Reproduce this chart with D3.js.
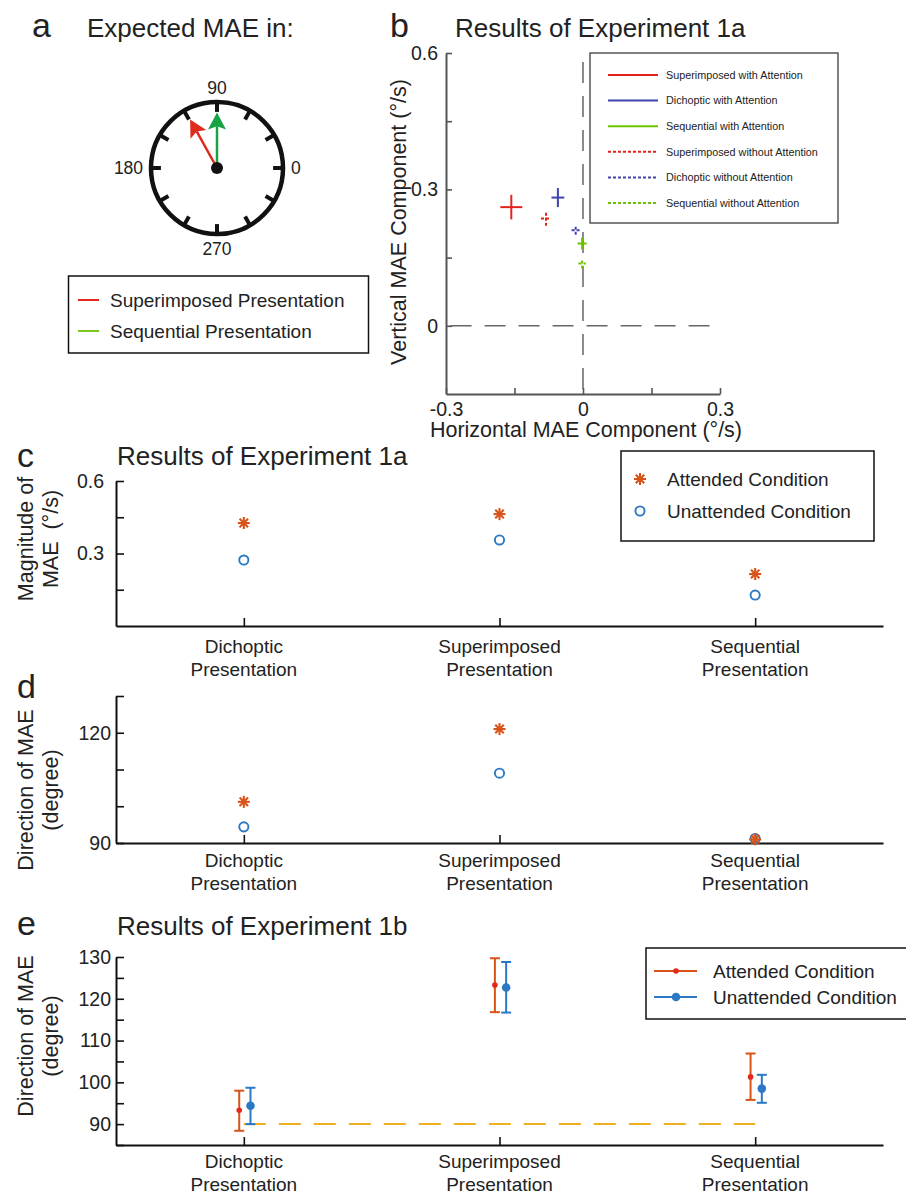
<!DOCTYPE html>
<html>
<head>
<meta charset="utf-8">
<script src="https://cdn.jsdelivr.net/npm/d3@7"></script>
<style>
  body { margin: 0; background: #fff; }
  text { font-family: "Liberation Sans", Arial, sans-serif; fill: #222; }
</style>
</head>
<body>
<div id="figure"></div>
<script>
// ---- data ----
// panel a: expected MAE directions (deg)
var clockLabels = [0, 90, 180, 270];
var expectedNames = ["Superimposed Presentation", "Sequential Presentation"];
var expectedAngles = [119, 90];

// panel b: horizontal / vertical MAE components with error extents
var compNames = ["Superimposed with Attention", "Dichoptic with Attention", "Sequential with Attention",
                 "Superimposed without Attention", "Dichoptic without Attention", "Sequential without Attention"];
var compX = [-0.157, -0.055, -0.002, -0.081, -0.016, -0.002];
var compY = [0.261, 0.282, 0.181, 0.236, 0.210, 0.137];
var compXErr = [0.024, 0.014, 0.010, 0.011, 0.009, 0.008];
var compYErr = [0.027, 0.021, 0.013, 0.016, 0.010, 0.011];
var bXTicks = [-0.3, -0.15, 0, 0.15, 0.3];
var bYTicks = [0, 0.15, 0.3, 0.45, 0.6];

// panels c-e: presentation conditions
var categories = ["Dichoptic", "Superimposed", "Sequential"];
var conditionNames = ["Attended Condition", "Unattended Condition"];

// c: magnitude of MAE (deg/s)
var magAttended = [0.426, 0.463, 0.215];
var magUnattended = [0.273, 0.356, 0.128];
var cYTicks = [0.15, 0.3, 0.45, 0.6];

// d: direction of MAE, experiment 1a (deg)
var dirAttended = [101.2, 121.0, 91.0];
var dirUnattended = [94.4, 109.0, 91.2];
var dYTicks = [90, 100, 110, 120, 130];

// e: direction of MAE, experiment 1b (deg) with error bars
var eAttended = [93.3, 123.3, 101.3];
var eAttendedLo = [88.4, 116.8, 95.8];
var eAttendedHi = [98.0, 129.7, 106.9];
var eUnattended = [94.4, 122.7, 98.5];
var eUnattendedLo = [90.0, 116.7, 95.1];
var eUnattendedHi = [98.7, 128.8, 101.8];
var eBaseline = 90;
var eYTicks = [85, 90, 95, 100, 105, 110, 115, 120, 125, 130];

// ---- setup ----
var svgWidth = 906, svgHeight = 1197;
var svg = d3.select("#figure").append("svg")
  .attr("width", svgWidth)
  .attr("height", svgHeight);

var red = "#e4221c", blue = "#4044ae", green = "#6cc400";
var attColor = "#d95319", attDot = "#e2291c", unColor = "#2b78c5";

function addText(x, y, str, size, anchor) {
  return svg.append("text")
    .attr("x", x).attr("y", y)
    .attr("text-anchor", anchor || "start")
    .style("font-size", size + "px")
    .text(str);
}

function styleAxis(g, color, size) {
  g.attr("font-family", null).attr("font-size", null);
  g.select(".domain").attr("stroke", color).attr("stroke-width", 2);
  g.selectAll(".tick line").attr("stroke", color).attr("stroke-width", 1.6);
  g.selectAll(".tick text").style("font-size", size + "px");
}

function star(g, x, y, r, color) {
  var s = g.append("g").attr("transform", "translate(" + x + "," + y + ")")
    .attr("stroke", color).attr("stroke-width", 2.1);
  [0, 45, 90, 135].forEach(function(a) {
    var t = a * Math.PI / 180;
    s.append("line")
      .attr("x1", -r * Math.cos(t)).attr("y1", -r * Math.sin(t))
      .attr("x2", r * Math.cos(t)).attr("y2", r * Math.sin(t));
  });
}

// two-line y label, first baseline at x, second one line to the right
function rotatedLabel(x, y, lines, size) {
  var t = svg.append("text")
    .attr("transform", "translate(" + x + "," + y + ") rotate(-90)")
    .attr("text-anchor", "middle")
    .style("font-size", size + "px");
  lines.forEach(function(l, i) {
    t.append("tspan").attr("x", 0).attr("dy", i === 0 ? "0" : "1.18em")
      .attr("xml:space", "preserve").text(l);
  });
}

function categoryLabels(xScale, y) {
  categories.forEach(function(c, i) {
    addText(xScale(i + 1), y, c, 19, "middle");
    addText(xScale(i + 1), y + 23, "Presentation", 19, "middle");
  });
}

// ---- panel a: clock ----
addText(32, 37, "a", 34);
addText(87, 37, "Expected MAE in:", 26);

var cx = 217, cy = 168;
var rScale = d3.scaleLinear().domain([0, 1]).range([0, 66]);
function polar(deg, r) {
  var t = deg * Math.PI / 180;
  return [cx + rScale(r) * Math.cos(t), cy - rScale(r) * Math.sin(t)];
}

svg.append("circle").attr("cx", cx).attr("cy", cy).attr("r", rScale(1))
  .attr("fill", "none").attr("stroke", "#111").attr("stroke-width", 4.5);

svg.append("g").selectAll("line")
  .data(d3.range(0, 360, 30))
  .enter().append("line")
  .attr("x1", d => polar(d, 1)[0]).attr("y1", d => polar(d, 1)[1])
  .attr("x2", d => polar(d, 0.85)[0]).attr("y2", d => polar(d, 0.85)[1])
  .attr("stroke", "#111").attr("stroke-width", 4);

clockLabels.forEach(function(d) {
  var p = polar(d, 1.12);
  var t = addText(p[0], p[1], String(d), 17.5,
    d === 0 ? "start" : d === 180 ? "end" : "middle");
  if (d === 0 || d === 180) t.attr("dy", "0.35em");
  if (d === 270) t.attr("dy", "0.72em");
});

var arrowColors = ["#df2a1e", "#17a343"];
expectedAngles.forEach(function(a, i) {
  var tip = polar(a, 0.84);
  var t = a * Math.PI / 180;
  var ux = Math.cos(t), uy = -Math.sin(t);
  var head = 17, half = 9;
  var bx = tip[0] - ux * head, by = tip[1] - uy * head;
  var nx = tip[0] - ux * head * 0.8, ny = tip[1] - uy * head * 0.8;
  svg.append("line")
    .attr("x1", cx).attr("y1", cy).attr("x2", nx).attr("y2", ny)
    .attr("stroke", arrowColors[i]).attr("stroke-width", 2.5);
  svg.append("path")
    .attr("d", "M" + tip[0] + "," + tip[1] +
      "L" + (bx - uy * half) + "," + (by + ux * half) +
      "L" + nx + "," + ny +
      "L" + (bx + uy * half) + "," + (by - ux * half) + "Z")
    .attr("fill", arrowColors[i]);
});
svg.append("circle").attr("cx", cx).attr("cy", cy).attr("r", 6).attr("fill", "#111");

// legend a
svg.append("rect").attr("x", 68.5).attr("y", 276).attr("width", 300).attr("height", 77)
  .attr("fill", "#fff").attr("stroke", "#111").attr("stroke-width", 1.5);
var legendAColors = ["#e5281e", "#7cc624"];
expectedNames.forEach(function(n, i) {
  var y = 300 + i * 31;
  svg.append("line").attr("x1", 78).attr("x2", 99).attr("y1", y).attr("y2", y)
    .attr("stroke", legendAColors[i]).attr("stroke-width", 2);
  addText(110, y, n, 19).attr("dy", "0.35em");
});

// ---- panel b: components ----
addText(390, 37, "b", 34);
addText(455, 37, "Results of Experiment 1a", 26);

var xB = d3.scaleLinear().domain([-0.3, 0.3]).range([446, 720]);
var yB = d3.scaleLinear().domain([-0.15, 0.6]).range([394, 53]);
var fmtB = function(d) { return d === 0 ? "0" : (Math.abs(d) === 0.15 || d === 0.45) ? "" : String(d); };

// zero reference lines
svg.append("line")
  .attr("x1", xB(0)).attr("x2", xB(0)).attr("y1", yB(0.58)).attr("y2", yB(-0.15))
  .attr("stroke", "#666").attr("stroke-width", 1.5).attr("stroke-dasharray", "21,13");
svg.append("line")
  .attr("x1", xB(-0.29)).attr("x2", xB(0.3)).attr("y1", yB(0)).attr("y2", yB(0))
  .attr("stroke", "#666").attr("stroke-width", 1.5).attr("stroke-dasharray", "21,13");

var gbx = svg.append("g").attr("transform", "translate(0," + yB(-0.15) + ")")
  .call(d3.axisBottom(xB).tickValues(bXTicks).tickSizeInner(-6).tickSizeOuter(0).tickPadding(8).tickFormat(fmtB));
styleAxis(gbx, "#555", 19.5);
var gby = svg.append("g").attr("transform", "translate(" + xB(-0.3) + ",0)")
  .call(d3.axisLeft(yB).tickValues(bYTicks).tickSizeInner(-6).tickSizeOuter(0).tickPadding(8).tickFormat(fmtB));
styleAxis(gby, "#555", 19.5);

addText(586, 437, "Horizontal MAE Component (°/s)", 21.5, "middle");
svg.append("text")
  .attr("transform", "translate(406,222) rotate(-90)")
  .attr("text-anchor", "middle").style("font-size", "21.5px")
  .text("Vertical MAE Component (°/s)");

var compColors = [red, blue, green, red, blue, green];
var crosses = svg.append("g").selectAll("g")
  .data(compNames.map((n, i) => i))
  .enter().append("g")
  .attr("stroke", i => compColors[i])
  .attr("stroke-width", 2)
  .attr("stroke-dasharray", i => i >= 3 ? "3,2" : null);
crosses.append("line")
  .attr("x1", i => xB(compX[i] - compXErr[i])).attr("x2", i => xB(compX[i] + compXErr[i]))
  .attr("y1", i => yB(compY[i])).attr("y2", i => yB(compY[i]));
crosses.append("line")
  .attr("x1", i => xB(compX[i])).attr("x2", i => xB(compX[i]))
  .attr("y1", i => yB(compY[i] - compYErr[i])).attr("y2", i => yB(compY[i] + compYErr[i]));

// legend b
svg.append("rect").attr("x", 590).attr("y", 53).attr("width", 248).attr("height", 170)
  .attr("fill", "#fff").attr("stroke", "#555").attr("stroke-width", 1.5);
compNames.forEach(function(n, i) {
  var y = 75 + i * 25.6;
  svg.append("line").attr("x1", 608).attr("x2", 658).attr("y1", y).attr("y2", y)
    .attr("stroke", compColors[i]).attr("stroke-width", 2)
    .attr("stroke-dasharray", i >= 3 ? "3,2" : null);
  addText(666, y, n, 10.8).attr("dy", "0.35em");
});

// ---- panel c: magnitude ----
addText(17, 467, "c", 34);
addText(117, 465, "Results of Experiment 1a", 26);

var xC = d3.scaleLinear().domain([0.5, 3.5]).range([116, 883]);
var yC = d3.scaleLinear().domain([0, 0.6]).range([626, 481]);

var gcx = svg.append("g").attr("transform", "translate(0," + yC(0) + ")")
  .call(d3.axisBottom(xC).tickValues([1, 2, 3]).tickSizeInner(-8).tickSizeOuter(0).tickFormat(""));
styleAxis(gcx, "#111", 19);
var gcy = svg.append("g").attr("transform", "translate(" + xC(0.5) + ",0)")
  .call(d3.axisLeft(yC).tickValues(cYTicks).tickSizeInner(-8).tickSizeOuter(0).tickPadding(12)
    .tickFormat(d => (d === 0.3 || d === 0.6) ? String(d) : ""));
styleAxis(gcy, "#111", 19.5);
categoryLabels(xC, 653);
rotatedLabel(33, 539, ["Magnitude of", "MAE  (°/s)"], 21.5);

var gc = svg.append("g");
magUnattended.forEach(function(v, i) {
  gc.append("circle").attr("cx", xC(i + 1)).attr("cy", yC(v)).attr("r", 4.6)
    .attr("fill", "none").attr("stroke", unColor).attr("stroke-width", 1.9);
});
magAttended.forEach(function(v, i) { star(gc, xC(i + 1), yC(v), 6, attColor); });

// legend c
svg.append("rect").attr("x", 621).attr("y", 451).attr("width", 253).attr("height", 90)
  .attr("fill", "#fff").attr("stroke", "#111").attr("stroke-width", 1.5);
star(svg, 640, 479, 6, attColor);
svg.append("circle").attr("cx", 640).attr("cy", 511).attr("r", 4.6)
  .attr("fill", "none").attr("stroke", unColor).attr("stroke-width", 1.9);
conditionNames.forEach(function(n, i) {
  addText(667, 479 + i * 32, n, 19).attr("dy", "0.35em");
});

// ---- panel d: direction (exp 1a) ----
addText(17, 698, "d", 34);
var yD = d3.scaleLinear().domain([90, 130]).range([843, 696]);
var gdx = svg.append("g").attr("transform", "translate(0," + yD(90) + ")")
  .call(d3.axisBottom(xC).tickValues([1, 2, 3]).tickSizeInner(-8).tickSizeOuter(0).tickFormat(""));
styleAxis(gdx, "#111", 19);
var gdy = svg.append("g").attr("transform", "translate(" + xC(0.5) + ",0)")
  .call(d3.axisLeft(yD).tickValues(dYTicks).tickSizeInner(-8).tickSizeOuter(0).tickPadding(5)
    .tickFormat(d => (d === 90 || d === 120) ? String(d) : ""));
styleAxis(gdy, "#111", 19.5);
categoryLabels(xC, 867);
rotatedLabel(33, 790, ["Direction of MAE", "(degree)"], 21.5);

var gd = svg.append("g");
dirUnattended.forEach(function(v, i) {
  gd.append("circle").attr("cx", xC(i + 1)).attr("cy", yD(v)).attr("r", 4.6)
    .attr("fill", "none").attr("stroke", unColor).attr("stroke-width", 1.9);
});
dirAttended.forEach(function(v, i) { star(gd, xC(i + 1), yD(v), 6, attColor); });

// ---- panel e: direction (exp 1b) ----
addText(17, 935, "e", 34);
addText(117, 935, "Results of Experiment 1b", 26);
var yE = d3.scaleLinear().domain([85, 130]).range([1145, 957]);
var gex = svg.append("g").attr("transform", "translate(0," + yE(85) + ")")
  .call(d3.axisBottom(xC).tickValues([1, 2, 3]).tickSizeInner(-8).tickSizeOuter(0).tickFormat(""));
styleAxis(gex, "#111", 19);
var gey = svg.append("g").attr("transform", "translate(" + xC(0.5) + ",0)")
  .call(d3.axisLeft(yE).tickValues(eYTicks).tickSizeInner(-8).tickSizeOuter(0).tickPadding(5)
    .tickFormat(d => d % 10 === 0 ? String(d) : ""));
styleAxis(gey, "#111", 19.5);
categoryLabels(xC, 1168);
rotatedLabel(33, 1036, ["Direction of MAE", "(degree)"], 21.5);

svg.append("line")
  .attr("x1", xC(1)).attr("x2", xC(3)).attr("y1", yE(eBaseline)).attr("y2", yE(eBaseline))
  .attr("stroke", "#edb120").attr("stroke-width", 2).attr("stroke-dasharray", "22,13");

function errorBars(vals, lo, hi, offset, color, dotColor, r) {
  var g = svg.append("g");
  vals.forEach(function(v, i) {
    var x = xC(i + 1 + offset);
    g.append("line").attr("x1", x).attr("x2", x).attr("y1", yE(lo[i])).attr("y2", yE(hi[i]))
      .attr("stroke", color).attr("stroke-width", 2);
    [lo[i], hi[i]].forEach(function(e) {
      g.append("line").attr("x1", x - 5).attr("x2", x + 5).attr("y1", yE(e)).attr("y2", yE(e))
        .attr("stroke", color).attr("stroke-width", 2);
    });
    g.append("circle").attr("cx", x).attr("cy", yE(v)).attr("r", r).attr("fill", dotColor);
  });
}
errorBars(eAttended, eAttendedLo, eAttendedHi, -0.018, attColor, attDot, 2.8);
errorBars(eUnattended, eUnattendedLo, eUnattendedHi, 0.026, unColor, unColor, 4.3);

// legend e
svg.append("rect").attr("x", 646).attr("y", 948).attr("width", 270).attr("height", 71)
  .attr("fill", "#fff").attr("stroke", "#111").attr("stroke-width", 1.5);
[[attColor, attDot, 2.8], [unColor, unColor, 4.3]].forEach(function(s, i) {
  var y = 971 + i * 26;
  svg.append("line").attr("x1", 654).attr("x2", 697).attr("y1", y).attr("y2", y)
    .attr("stroke", s[0]).attr("stroke-width", 2);
  svg.append("circle").attr("cx", 676).attr("cy", y).attr("r", s[2]).attr("fill", s[1]);
  addText(713, y, conditionNames[i], 19).attr("dy", "0.35em");
});
</script>
</body>
</html>
